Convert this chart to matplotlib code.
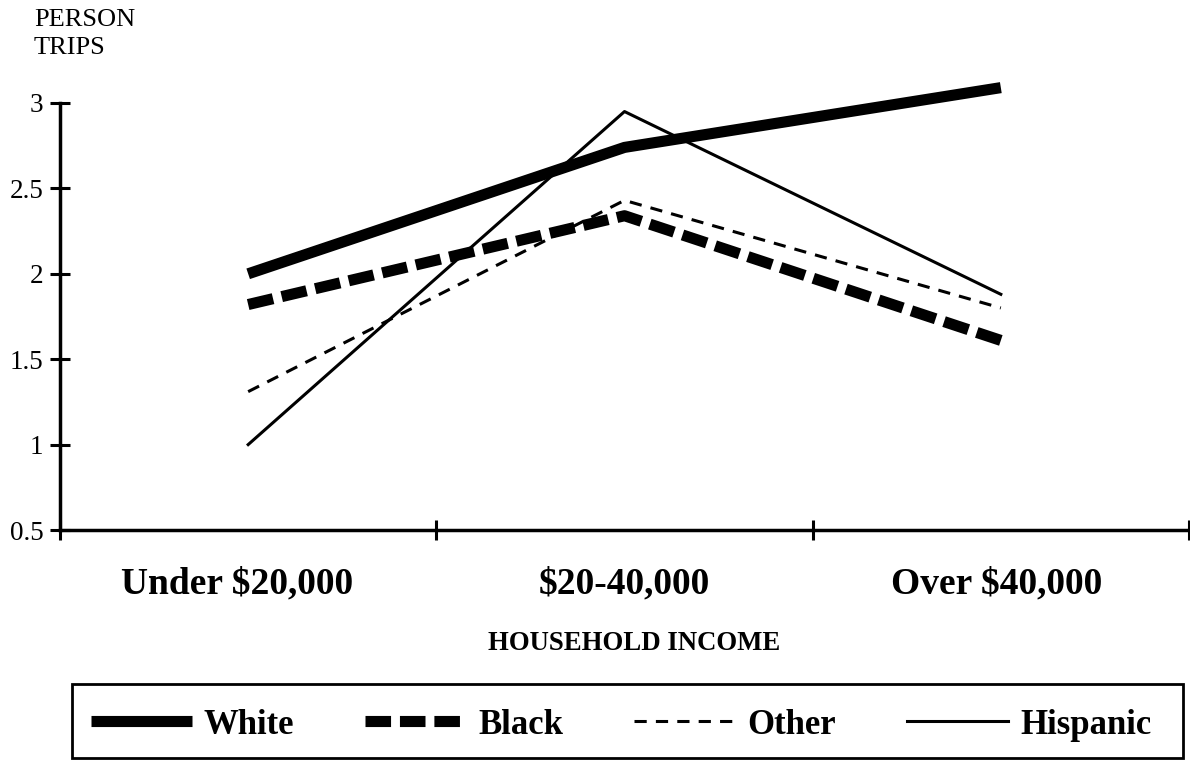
import matplotlib.pyplot as plt
import numpy as np
from matplotlib.patches import Rectangle

plt.rcParams['font.family'] = ['Liberation Serif', 'DejaVu Serif']

income = ["Under $20,000", "$20-40,000", "Over $40,000"]
white = [2.00, 2.74, 3.09]
black = [1.82, 2.34, 1.61]
other = [1.31, 2.43, 1.80]
hispanic = [1.00, 2.95, 1.88]

x = np.arange(len(income))

fig = plt.figure(figsize=(11.9, 7.74), dpi=100)
ax = fig.add_axes([60/1190, 1-530/774, 1129/1190, (530-103)/774])

ax.plot(x, white, color="k", lw=8, solid_capstyle="butt", label="White", clip_on=False)
ax.plot(x, black, color="k", lw=8, dashes=(2.3, 0.8), dash_capstyle="butt", label="Black", clip_on=False)
ax.plot(x, other, color="k", lw=2.2, dashes=(4, 3), dash_capstyle="butt", label="Other", clip_on=False)
ax.plot(x, hispanic, color="k", lw=2.2, label="Hispanic", clip_on=False)

ax.set_xlim(-0.5, 2.5)
ax.set_ylim(0.5, 3)
ax.set_yticks([0.5, 1, 1.5, 2, 2.5, 3])
ax.set_yticklabels(["0.5", "1", "1.5", "2", "2.5", "3"], fontsize=19.5)
ax.set_xticks([-0.5, 0.5, 1.5, 2.5])
ax.set_xticklabels([])
ax.set_xticks(x + np.array([-0.03, 0.0, -0.01]), minor=True)
ax.set_xticklabels(income, minor=True, fontsize=27, fontweight="bold")
ax.tick_params(axis="x", which="minor", length=0, pad=26)
ax.tick_params(axis="both", which="major", direction="inout", length=14, width=2.2)
ax.tick_params(axis="y", pad=5)

for s in ["top", "right"]:
    ax.spines[s].set_visible(False)
for s in ["left", "bottom"]:
    ax.spines[s].set_linewidth(2.5)

fig.text(34/1190, 1-9/774, "PERSON\nTRIPS", fontsize=19, va="top", ha="left", linespacing=1.35)
fig.text(634/1190, 1-643/774, "HOUSEHOLD INCOME", fontsize=19.3, fontweight="bold", ha="center", va="center")

# legend box
fig.patches.append(Rectangle((72/1190, 1-758/774), 1111/1190, 74/774, transform=fig.transFigure,
                             fill=False, edgecolor="k", lw=2))
leg = fig.legend(loc="center", bbox_to_anchor=(621/1190, 1-725/774), ncol=4,
                 prop={"weight": "bold", "size": 25},
                 handlelength=2.9, handletextpad=0.35, columnspacing=2.05,
                 frameon=False, borderaxespad=0)

fig.savefig("out.png", dpi=100)
